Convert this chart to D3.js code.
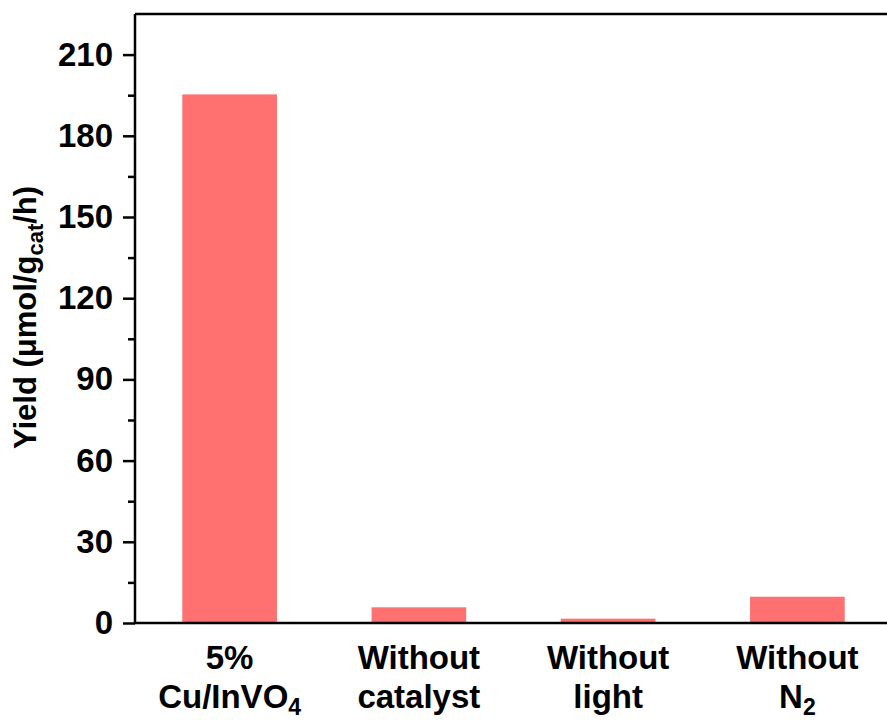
<!DOCTYPE html>
<html>
<head>
<meta charset="utf-8">
<script src="https://cdn.jsdelivr.net/npm/d3@7"></script>
<style>
  html, body { margin: 0; padding: 0; background: #fff; }
  svg { display: block; }
  text { font-family: "Liberation Sans", Arial, sans-serif; font-weight: bold; fill: #000; }
</style>
</head>
<body>
<svg id="chart" width="887" height="726"></svg>
<script>
// Photocatalytic yield under different control conditions
const categories = ["5% Cu/InVO4", "Without catalyst", "Without light", "Without N2"];
const yields = [195.3, 5.8, 1.6, 9.7];
// Category labels: each line is a list of [text, isSubscript] pieces
const categoryLines = [
  [[["5%", false]], [["Cu/InVO", false], ["4", true]]],
  [[["Without", false]], [["catalyst", false]]],
  [[["Without", false]], [["light", false]]],
  [[["Without", false]], [["N", false], ["2", true]]]
];
const yTicks = [0, 30, 60, 90, 120, 150, 180, 210];
const yMinorTicks = [15, 45, 75, 105, 135, 165, 195];

const svg = d3.select("#chart");
const plot = { left: 135, right: 892, top: 14, bottom: 623 };

const x = d3.scaleBand()
  .domain(categories)
  .range([plot.left, plot.right])
  .paddingInner(0.5)
  .paddingOuter(0.25);

const y = d3.scaleLinear()
  .domain([0, 225])
  .range([plot.bottom, plot.top]);

// Bars
svg.append("g")
  .selectAll("rect")
  .data(categories)
  .join("rect")
  .attr("x", d => x(d))
  .attr("width", x.bandwidth())
  .attr("y", (d, i) => y(yields[i]))
  .attr("height", (d, i) => y(0) - y(yields[i]))
  .attr("fill", "#ff7070");

// Frame (top and right edges)
svg.append("path")
  .attr("d", `M${plot.left},${plot.top}H${plot.right}V${plot.bottom}`)
  .attr("fill", "none")
  .attr("stroke", "#000")
  .attr("stroke-width", 2.5);

// Y axis with major ticks
const yAxis = svg.append("g")
  .attr("transform", `translate(${plot.left},0)`)
  .call(d3.axisLeft(y).tickValues(yTicks).tickSize(12).tickPadding(10).tickSizeOuter(0));
yAxis.select(".domain").attr("stroke-width", 2.5).attr("d", `M0,${plot.top}V${plot.bottom}`);
yAxis.selectAll(".tick line").attr("stroke-width", 2.5);
yAxis.selectAll(".tick text")
  .attr("font-size", 33)
  .attr("font-family", "'Liberation Sans', Arial, sans-serif")
  .attr("font-weight", "bold")
  .attr("fill", "#000");

// Minor ticks
svg.append("g")
  .attr("transform", `translate(${plot.left},0)`)
  .call(d3.axisLeft(y).tickValues(yMinorTicks).tickSize(7).tickFormat(""))
  .call(g => g.select(".domain").remove())
  .selectAll(".tick line").attr("stroke-width", 2.5);

// X axis line
svg.append("g")
  .attr("transform", `translate(0,${plot.bottom})`)
  .call(d3.axisBottom(x).tickSize(0).tickFormat(""))
  .call(g => g.select(".domain").attr("stroke-width", 2.5)
    .attr("d", `M${plot.left - 1},0H${plot.right}`));

// Category labels (two lines, with subscripts)
const labelG = svg.append("g");
categories.forEach((c, i) => {
  categoryLines[i].forEach((line, li) => {
    const t = labelG.append("text")
      .attr("x", x(c) + x.bandwidth() / 2)
      .attr("y", 669 + li * 39)
      .attr("text-anchor", "middle")
      .attr("font-size", 33);
    line.forEach(([txt, sub]) => {
      const ts = t.append("tspan").text(txt);
      if (sub) ts.attr("font-size", 23).attr("dy", 7);
    });
  });
});

// Y axis title
const yTitle = svg.append("text")
  .attr("transform", `translate(36,${(plot.top + plot.bottom) / 2 - 1}) rotate(-90)`)
  .attr("text-anchor", "middle")
  .attr("font-size", 31);
yTitle.append("tspan").text("Yield (μmol/g");
yTitle.append("tspan").text("cat").attr("font-size", 22).attr("dy", 7);
yTitle.append("tspan").text("/h)").attr("dy", -7);
</script>
</body>
</html>
